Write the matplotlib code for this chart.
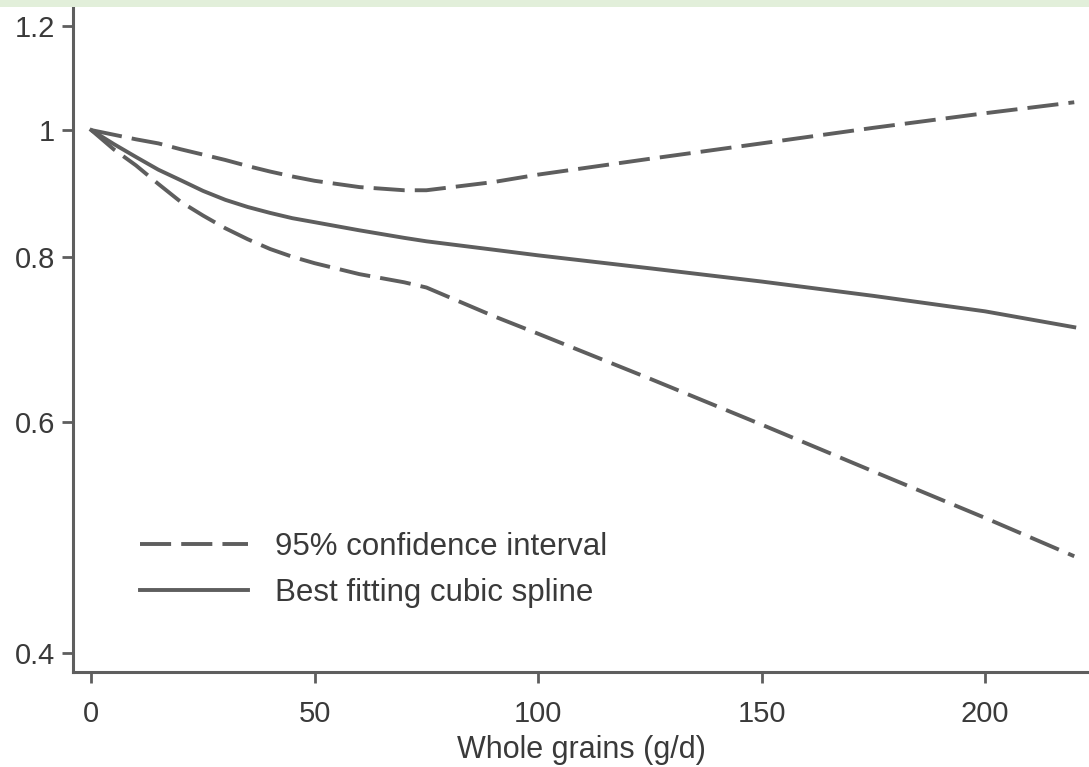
import matplotlib
matplotlib.use("Agg")
import matplotlib.pyplot as plt
import numpy as np
from matplotlib.patches import Rectangle
from matplotlib.ticker import FixedLocator, FixedFormatter, NullLocator

plt.rcParams['font.family'] = ['Liberation Sans', 'DejaVu Sans']

# values (relative risk vs whole grain intake)
grains = [0, 5, 10, 15, 20, 25, 30, 35, 40, 45, 50, 60, 70, 75, 90, 100, 125, 150, 175, 200, 220]
spline = [1.0, 0.976, 0.954, 0.933, 0.916, 0.899, 0.885, 0.874, 0.865, 0.857, 0.851, 0.839,
          0.828, 0.823, 0.811, 0.803, 0.785, 0.767, 0.748, 0.728, 0.708]
ci_upper = [1.0, 0.992, 0.984, 0.977, 0.967, 0.958, 0.949, 0.939, 0.930, 0.922, 0.915, 0.905,
            0.900, 0.900, 0.913, 0.925, 0.951, 0.977, 1.004, 1.030, 1.050]
ci_lower = [1.0, 0.967, 0.940, 0.910, 0.882, 0.861, 0.842, 0.826, 0.812, 0.801, 0.792, 0.777,
            0.766, 0.759, 0.722, 0.700, 0.647, 0.597, 0.550, 0.507, 0.474]

x_ticks = [0, 50, 100, 150, 200]
y_ticks = [0.4, 0.6, 0.8, 1.0, 1.2]
y_tick_labels = ['0.4', '0.6', '0.8', '1', '1.2']

line_col = '#5e5e5e'
text_col = '#3a3a3a'

fig = plt.figure(figsize=(10.89, 7.67), dpi=100)
fig.patches.append(Rectangle((0, 1 - 7 / 767), 1, 7 / 767, transform=fig.transFigure,
                             facecolor='#e2efda', edgecolor='none', zorder=0))

ax = fig.add_axes([73 / 1089, 1 - 672 / 767, (1089 - 73) / 1089, (672 - 7) / 767])

ax.plot(grains, ci_upper, color=line_col, lw=2.8, dashes=(8, 2.6), label='95% confidence interval')
ax.plot(grains, ci_lower, color=line_col, lw=2.8, dashes=(8, 2.6))
ax.plot(grains, spline, color=line_col, lw=2.8, label='Best fitting cubic spline')

ax.set_yscale('log')
ax.set_xlim(-4.1, 223.3)
ax.set_ylim(0.387, 1.2407)
ax.yaxis.set_major_locator(FixedLocator(y_ticks))
ax.yaxis.set_major_formatter(FixedFormatter(y_tick_labels))
ax.yaxis.set_minor_locator(NullLocator())
ax.set_xticks(x_ticks)

for side in ['top', 'right']:
    ax.spines[side].set_visible(False)
for side in ['left', 'bottom']:
    ax.spines[side].set_color(line_col)
    ax.spines[side].set_linewidth(2.2)

ax.tick_params(axis='both', direction='out', length=8, width=2, color=line_col,
               labelsize=21, labelcolor=text_col)
ax.tick_params(axis='x', pad=12)
ax.tick_params(axis='y', pad=5)

ax.set_xlabel('Whole grains (g/d)', fontsize=22, color=text_col, labelpad=5)

ax.legend(loc='upper left', bbox_to_anchor=(140 / 1089, 1 - 532 / 767),
          bbox_transform=fig.transFigure, borderpad=0, borderaxespad=0,
          frameon=False, fontsize=22.5, handlelength=3.45, handletextpad=0.86,
          labelspacing=0.52, labelcolor=text_col)

fig.savefig('out.png', dpi=100)
